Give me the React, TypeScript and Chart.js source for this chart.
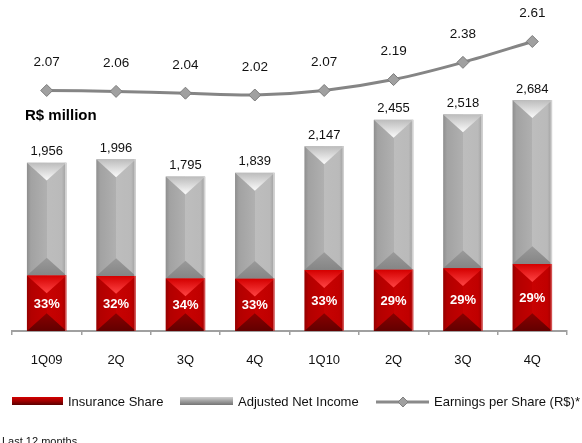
import React, { useEffect, useRef } from "react";
import { Chart, registerables } from "chart.js";

Chart.register(...registerables);

const categories = ["1Q09", "2Q", "3Q", "4Q", "1Q10", "2Q", "3Q", "4Q"];
const adjustedNetIncome = [1956, 1996, 1795, 1839, 2147, 2455, 2518, 2684];
const insuranceValue = [645, 639, 610, 607, 708, 712, 730, 778];
const insuranceShareLabels = ["33%", "32%", "34%", "33%", "33%", "29%", "29%", "29%"];
const earningsPerShare = [2.07, 2.06, 2.04, 2.02, 2.07, 2.19, 2.38, 2.61];

const FONT = "'Liberation Sans', Arial, sans-serif";

function drawBevelBar(ctx: CanvasRenderingContext2D, el: any, red: boolean) {
  const { x, y, base, width } = el.getProps(["x", "y", "base", "width"], true);
  const left = x - width / 2;
  const right = x + width / 2;
  const top = Math.min(y, base);
  const bottom = Math.max(y, base);
  const h = bottom - top;
  const d = Math.min(width * 0.45, h / 2);
  ctx.save();
  const g = ctx.createLinearGradient(left, 0, right, 0);
  if (red) {
    g.addColorStop(0, "#940000");
    g.addColorStop(0.1, "#b20000");
    g.addColorStop(0.5, "#c20000");
    g.addColorStop(0.5, "#c80202");
    g.addColorStop(0.88, "#c00000");
    g.addColorStop(1, "#a00000");
  } else {
    g.addColorStop(0, "#8e8e8e");
    g.addColorStop(0.1, "#a2a2a2");
    g.addColorStop(0.5, "#b0b0b0");
    g.addColorStop(0.5, "#bdbdbd");
    g.addColorStop(0.88, "#bababa");
    g.addColorStop(1, "#9c9c9c");
  }
  ctx.fillStyle = g;
  ctx.fillRect(left, top, width, h);

  // bottom triangle
  const gb = ctx.createLinearGradient(0, bottom - d, 0, bottom);
  if (red) {
    gb.addColorStop(0, "#8a0000");
    gb.addColorStop(1, "#620000");
  } else {
    gb.addColorStop(0, "#9a9a9a");
    gb.addColorStop(1, "#858585");
  }
  ctx.fillStyle = gb;
  ctx.beginPath();
  ctx.moveTo(left, bottom);
  ctx.lineTo(right, bottom);
  ctx.lineTo(x, bottom - d);
  ctx.closePath();
  ctx.fill();

  // top chevron
  const gt = ctx.createLinearGradient(0, top, 0, top + d);
  if (red) {
    gt.addColorStop(0, "#d40000");
    gt.addColorStop(1, "#ff4444");
  } else {
    gt.addColorStop(0, "#bcbcbc");
    gt.addColorStop(1, "#fbfbfb");
  }
  ctx.fillStyle = gt;
  ctx.beginPath();
  ctx.moveTo(left, top);
  ctx.lineTo(right, top);
  ctx.lineTo(x, top + d);
  ctx.closePath();
  ctx.fill();

  // light right edge
  ctx.fillStyle = red ? "rgba(255,160,160,0.5)" : "rgba(230,230,230,0.7)";
  ctx.fillRect(right - 1.5, top, 1.5, h);
  ctx.restore();
}

const bevelPlugin = {
  id: "bevelBars",
  afterDatasetDraw(chart: any, args: any) {
    const meta = args.meta;
    if (meta.type !== "bar") return;
    const red = meta.index === 1;
    const ctx = chart.ctx;
    meta.data.forEach((el: any) => drawBevelBar(ctx, el, red));
  },
};

const labelsPlugin = {
  id: "valueLabels",
  afterDatasetsDraw(chart: any) {
    const ctx = chart.ctx;
    ctx.save();
    ctx.textAlign = "center";
    ctx.textBaseline = "middle";
    // EPS labels
    const lineMeta = chart.getDatasetMeta(0);
    ctx.fillStyle = "#111";
    ctx.font = `13.5px ${FONT}`;
    lineMeta.data.forEach((pt: any, i: number) => {
      ctx.fillText(earningsPerShare[i].toFixed(2), pt.x, pt.y - 28);
    });
    // total labels
    const grayMeta = chart.getDatasetMeta(2);
    ctx.font = `13px ${FONT}`;
    grayMeta.data.forEach((el: any, i: number) => {
      const { x, y } = el.getProps(["x", "y"], true);
      ctx.fillText(adjustedNetIncome[i].toLocaleString("en-US"), x, y - 11);
    });
    // share labels
    const redMeta = chart.getDatasetMeta(1);
    ctx.fillStyle = "#ffffff";
    ctx.font = `bold 13px ${FONT}`;
    redMeta.data.forEach((el: any, i: number) => {
      const { x, y, base } = el.getProps(["x", "y", "base"], true);
      ctx.fillText(insuranceShareLabels[i], x, (y + base) / 2 + 1);
    });
    ctx.restore();
  },
  afterDraw(chart: any) {
    const ctx = chart.ctx;
    ctx.save();
    // title
    ctx.fillStyle = "#000";
    ctx.font = `bold 15px ${FONT}`;
    ctx.textAlign = "left";
    ctx.textBaseline = "middle";
    ctx.fillText("R$ million", 25, 116);

    // legend
    const ly = 401;
    const gr = ctx.createLinearGradient(0, ly - 4, 0, ly + 4);
    gr.addColorStop(0, "#d40000");
    gr.addColorStop(0.5, "#a00000");
    gr.addColorStop(1, "#5a0000");
    ctx.fillStyle = gr;
    ctx.fillRect(12, ly - 4, 51, 8);
    const gg = ctx.createLinearGradient(0, ly - 4, 0, ly + 4);
    gg.addColorStop(0, "#d0d0d0");
    gg.addColorStop(0.5, "#a0a0a0");
    gg.addColorStop(1, "#747474");
    ctx.fillStyle = gg;
    ctx.fillRect(180, ly - 4, 53, 8);
    ctx.strokeStyle = "#8a8a8a";
    ctx.lineWidth = 3;
    ctx.beginPath();
    ctx.moveTo(376, ly + 1);
    ctx.lineTo(429, ly + 1);
    ctx.stroke();
    ctx.fillStyle = "#a0a0a0";
    ctx.strokeStyle = "#808080";
    ctx.lineWidth = 1;
    ctx.beginPath();
    ctx.moveTo(403, ly + 1 - 5);
    ctx.lineTo(408, ly + 1);
    ctx.lineTo(403, ly + 1 + 5);
    ctx.lineTo(398, ly + 1);
    ctx.closePath();
    ctx.fill();
    ctx.stroke();

    ctx.fillStyle = "#111";
    ctx.font = `13px ${FONT}`;
    ctx.fillText("Insurance Share", 68, ly + 1);
    ctx.fillText("Adjusted Net Income", 238, ly + 1);
    ctx.fillText("Earnings per Share (R$)*", 434, ly + 1);

    // footer
    ctx.font = `11px ${FONT}`;
    ctx.textBaseline = "alphabetic";
    ctx.fillText("Last 12 months", 2, 445);
    ctx.restore();
  },
};

export default function App() {
  const ref = useRef<HTMLCanvasElement | null>(null);
  useEffect(() => {
    if (!ref.current) return;
    const chart = new Chart(ref.current, {
      type: "bar",
      data: {
        labels: categories,
        datasets: [
          {
            type: "line",
            label: "Earnings per Share (R$)*",
            data: earningsPerShare,
            yAxisID: "y2",
            order: 0,
            borderColor: "#858585",
            borderWidth: 3,
            tension: 0.3,
            pointStyle: "rectRot",
            pointRadius: 6,
            pointBackgroundColor: "#a0a0a0",
            pointBorderColor: "#7c7c7c",
            pointBorderWidth: 1,
          } as any,
          {
            type: "bar",
            label: "Insurance Share",
            data: insuranceValue,
            yAxisID: "y",
            order: 1,
            grouped: false,
            backgroundColor: "rgba(0,0,0,0)",
            categoryPercentage: 0.57,
            barPercentage: 1,
          } as any,
          {
            type: "bar",
            label: "Adjusted Net Income",
            data: insuranceValue.map((v, i) => [v, adjustedNetIncome[i]]),
            yAxisID: "y",
            order: 2,
            grouped: false,
            backgroundColor: "rgba(0,0,0,0)",
            categoryPercentage: 0.57,
            barPercentage: 1,
          } as any,
        ],
      },
      options: {
        responsive: false,
        animation: false,
        layout: { padding: { left: 12, right: 15, top: 20, bottom: 0 } },
        plugins: { legend: { display: false }, tooltip: { enabled: false } },
        scales: {
          x: {
            offset: true,
            grid: {
              offset: true,
              drawOnChartArea: false,
              tickLength: 4,
              color: "#a0a0a0",
              lineWidth: 1.5,
            },
            border: { color: "#a0a0a0", width: 2 },
            ticks: { color: "#111", font: { size: 13, family: FONT }, padding: 18 },
            afterFit: (axis: any) => {
              axis.height = 112;
            },
          } as any,
          y: { display: false, min: 0, max: 3616 },
          y2: { display: false, min: -0.582, max: 2.847 },
        },
      },
      plugins: [bevelPlugin, labelsPlugin],
    });
    return () => chart.destroy();
  }, []);
  return (
    <div style={{ position: "absolute", left: 0, top: 0, width: 582, height: 443, background: "#fff" }}>
      <canvas ref={ref} width={582} height={443} style={{ display: "block" }} />
    </div>
  );
}
